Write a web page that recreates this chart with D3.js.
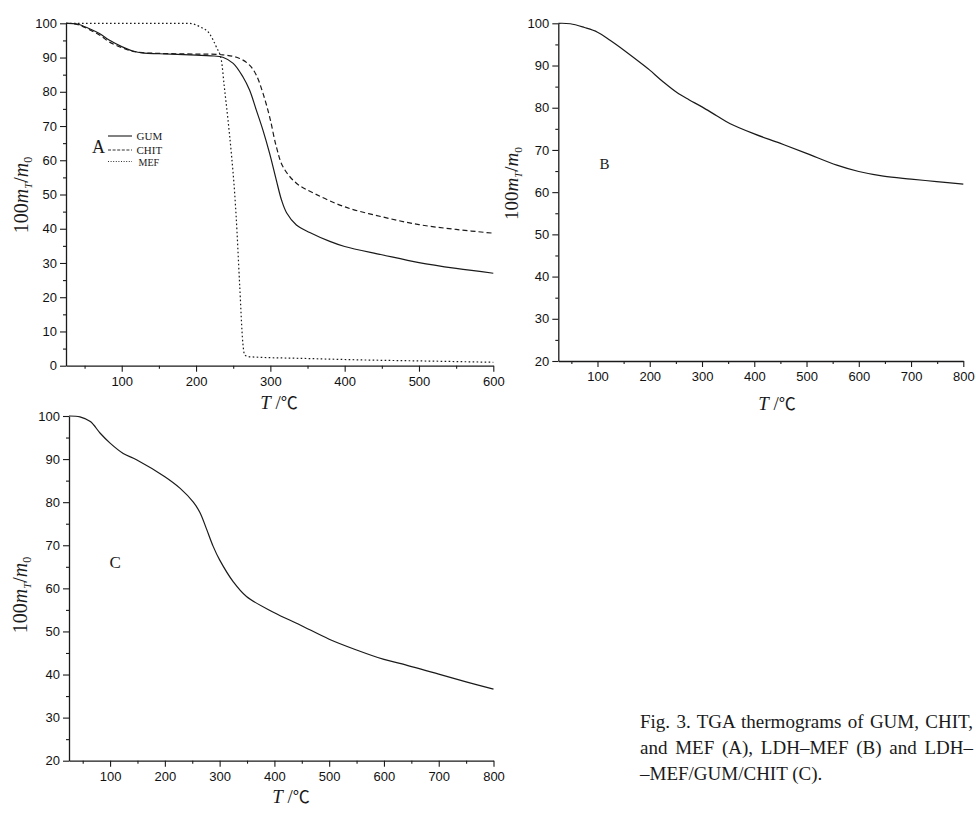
<!DOCTYPE html>
<html>
<head>
<meta charset="utf-8">
<script src="https://cdn.jsdelivr.net/npm/d3@7/dist/d3.min.js"></script>
<style>
  html, body { margin: 0; padding: 0; background: #fff; }
  svg { display: block; }
</style>
</head>
<body>
<script>
// ---------- DATA ----------
// Panel A : GUM, CHIT, MEF  (temperature in °C, residual mass 100 m_T/m_0)
const gumT  = [25, 40, 56, 70, 83, 100, 115, 130, 150, 200, 220, 236, 250, 263, 272, 281, 290, 299, 308, 315, 322, 335, 353, 380, 400, 450, 500, 550, 600];
const gumW  = [100, 99.8, 98.5, 97, 95.1, 93.2, 91.9, 91.3, 91.1, 90.7, 90.5, 90.1, 88.3, 84.4, 80.5, 74.7, 68.8, 62, 54.2, 48.4, 44.6, 41.1, 38.9, 36.3, 34.8, 32.4, 30.1, 28.4, 27];
const chitT = [25, 40, 56, 70, 83, 100, 115, 130, 150, 200, 236, 258, 272, 281, 290, 299, 308, 317, 335, 360, 400, 450, 500, 550, 600];
const chitW = [100, 99.7, 98.2, 96.6, 94.6, 92.9, 91.8, 91.4, 91.2, 91, 90.8, 89.8, 87.8, 84.9, 79.6, 72.7, 64, 58.1, 53.3, 50.2, 46.4, 43.5, 41.2, 39.8, 38.7];
const mefT  = [25, 150, 190, 205, 218, 227, 234, 238, 243, 247.5, 252, 254, 258.6, 263, 265.5, 272, 350, 420, 500, 600];
const mefW  = [100, 100, 100, 99, 97, 93.2, 89.3, 81.5, 71.8, 62, 50.3, 43.5, 24, 6.5, 3.1, 2.6, 2.1, 1.7, 1.4, 1.0];
// Panel B : LDH–MEF
const bT = [25, 48, 75, 100, 124, 150, 189, 200, 226, 252, 275, 300, 328, 354, 400, 449, 500, 558, 600, 647, 700, 749, 800];
const bW = [100, 99.9, 99, 97.9, 96, 93.7, 90, 88.9, 86.1, 83.6, 81.9, 80.2, 78.1, 76.2, 73.8, 71.6, 69.2, 66.4, 64.9, 63.8, 63.1, 62.5, 61.9];
// Panel C : LDH–MEF/GUM/CHIT
const cT = [25, 45, 64, 82, 100, 124, 149, 200, 228, 252, 264, 276, 288, 300, 325, 349, 399, 447, 500, 550, 600, 629, 700, 750, 800];
const cW = [100, 99.8, 98.7, 96, 93.7, 91.3, 89.8, 85.9, 83.2, 80, 77.6, 73.8, 69.8, 66.6, 61.5, 58.1, 54.4, 51.5, 48.2, 45.7, 43.5, 42.6, 40.1, 38.3, 36.6];

// tick values
const xMajorA = [100, 200, 300, 400, 500, 600];
const xMinorA = [50, 150, 250, 350, 450, 550];
const yMajorA = [0, 10, 20, 30, 40, 50, 60, 70, 80, 90, 100];
const yMinorA = [5, 15, 25, 35, 45, 55, 65, 75, 85, 95];
const xMajorBC = [100, 200, 300, 400, 500, 600, 700, 800];
const xMinorBC = [50, 150, 250, 350, 450, 550, 650, 750];
const yMajorBC = [20, 30, 40, 50, 60, 70, 80, 90, 100];
const yMinorBC = [25, 35, 45, 55, 65, 75, 85, 95];

const legendNames = ["GUM", "CHIT", "MEF"];
const panelLetters = ["A", "B", "C"];
const captionLines = [
  "Fig. 3. TGA thermograms of GUM, CHIT,",
  "and MEF (A), LDH\u2013MEF (B) and LDH\u2013",
  "\u2013MEF/GUM/CHIT (C)."
];

// ---------- DRAWING ----------
const W = 976, H = 817;
const svg = d3.select("body").append("svg").attr("width", W).attr("height", H);
svg.append("rect").attr("width", W).attr("height", H).attr("fill", "#fff");

const SANS = "'Liberation Sans', Arial, Helvetica, sans-serif";
const SERIF = "'Liberation Serif', 'Times New Roman', Times, serif";
const INK = "#1a1a1a";

function zip(ts, ws) { return ts.map((t, i) => [t, ws[i]]); }

function makePanel(o) {
  const x = d3.scaleLinear().domain(o.xDomain).range(o.xRange);
  const y = d3.scaleLinear().domain(o.yDomain).range(o.yRange);
  const g = svg.append("g");

  // minor ticks
  g.append("g").attr("transform", `translate(0,${o.yRange[0]})`)
    .call(d3.axisBottom(x).tickValues(o.xMinor).tickSize(3).tickFormat(""))
    .call(s => s.select(".domain").remove());
  g.append("g").attr("transform", `translate(${o.xRange[0]},0)`)
    .call(d3.axisLeft(y).tickValues(o.yMinor).tickSize(3).tickFormat(""))
    .call(s => s.select(".domain").remove());
  // major
  g.append("g").attr("transform", `translate(0,${o.yRange[0]})`)
    .call(d3.axisBottom(x).tickValues(o.xMajor).tickSize(6).tickSizeOuter(0).tickPadding(5).tickFormat(d3.format("d")));
  g.append("g").attr("transform", `translate(${o.xRange[0]},0)`)
    .call(d3.axisLeft(y).tickValues(o.yMajor).tickSize(6).tickSizeOuter(0).tickPadding(3).tickFormat(d3.format("d")));

  g.selectAll(".domain").attr("stroke", INK).attr("stroke-width", 1.3);
  g.selectAll(".tick line").attr("stroke", INK).attr("stroke-width", 1.1);
  g.selectAll(".tick text").attr("font-family", SANS).attr("font-size", 13).attr("fill", "#111");

  // series
  o.series.forEach(s => {
    const line = d3.line().x(d => x(d[0])).y(d => y(d[1]))
      .curve(s.sharp ? d3.curveMonotoneX : d3.curveCatmullRom.alpha(0.5));
    g.append("path").datum(zip(s.t, s.w))
      .attr("d", line)
      .attr("fill", "none")
      .attr("stroke", INK)
      .attr("stroke-width", s.width || 1.2)
      .attr("stroke-dasharray", s.dash || null);
  });

  // y label 100 m_T / m_0
  const yl = g.append("text")
    .attr("transform", `translate(${o.yLabel[0]},${o.yLabel[1]}) rotate(-90)`)
    .attr("text-anchor", "middle")
    .attr("font-family", SERIF)
    .attr("font-size", o.yLabelSize)
    .attr("fill", INK);
  yl.append("tspan").text("100");
  yl.append("tspan").attr("font-style", "italic").text("m");
  yl.append("tspan").attr("font-style", "italic").attr("font-size", o.yLabelSize * 0.55).attr("dy", o.yLabelSize * 0.2).text("T");
  yl.append("tspan").attr("dy", -o.yLabelSize * 0.2).text("/");
  yl.append("tspan").attr("font-style", "italic").text("m");
  yl.append("tspan").attr("font-size", o.yLabelSize * 0.6).attr("dy", o.yLabelSize * 0.2).text("0");

  // x label T / ℃
  const xl = g.append("text")
    .attr("x", o.xLabel[0]).attr("y", o.xLabel[1])
    .attr("text-anchor", "middle")
    .attr("font-family", SERIF)
    .attr("font-size", 19)
    .attr("fill", INK);
  xl.append("tspan").attr("font-style", "italic").text("T");
  xl.append("tspan").text(" /");
  xl.append("tspan").attr("font-family", "'Noto Sans CJK SC', " + SERIF).attr("font-size", 17).text("\u2103");

  // panel letter
  g.append("text").attr("x", o.letter[0]).attr("y", o.letter[1])
    .attr("font-family", SERIF).attr("font-size", o.letterSize).attr("fill", INK)
    .text(o.letterText);
  return { g, x, y };
}

// Panel A
const pA = makePanel({
  xDomain: [25, 600], xRange: [66, 493.3],
  yDomain: [0, 100], yRange: [365.7, 23.3],
  xMajor: xMajorA, xMinor: xMinorA, yMajor: yMajorA, yMinor: yMinorA,
  series: [
    { t: gumT, w: gumW },
    { t: chitT, w: chitW, dash: "5,3" },
    { t: mefT, w: mefW, dash: "1.6,2.4", sharp: true }
  ],
  yLabel: [28, 195], yLabelSize: 20,
  xLabel: [279, 409],
  letter: [92, 153], letterSize: 18, letterText: panelLetters[0]
});

// legend of panel A
const legY = [136, 150, 161.5];
const legDash = [null, "3,1.6", "1,1.6"];
const legFont = [11, 11, 10];
legendNames.forEach((name, i) => {
  pA.g.append("line").attr("x1", 108).attr("x2", 132).attr("y1", legY[i]).attr("y2", legY[i])
    .attr("stroke", INK).attr("stroke-width", i === 0 ? 1.1 : 0.9)
    .attr("stroke-dasharray", legDash[i]);
  pA.g.append("text").attr("x", i === 2 ? 138.5 : 136.5).attr("y", legY[i] + 4)
    .attr("font-family", SERIF).attr("font-size", legFont[i]).attr("fill", INK).text(name);
});

// Panel B
makePanel({
  xDomain: [25, 800], xRange: [558.3, 963.3],
  yDomain: [20, 100], yRange: [361, 23.3],
  xMajor: xMajorBC, xMinor: xMinorBC, yMajor: yMajorBC, yMinor: yMinorBC,
  series: [{ t: bT, w: bW }],
  yLabel: [518, 183.5], yLabelSize: 19,
  xLabel: [777, 410],
  letter: [599.5, 168.5], letterSize: 15, letterText: panelLetters[1]
});

// Panel C
makePanel({
  xDomain: [25, 800], xRange: [69, 493.5],
  yDomain: [20, 100], yRange: [760.7, 416],
  xMajor: xMajorBC, xMinor: xMinorBC, yMajor: yMajorBC, yMinor: yMinorBC,
  series: [{ t: cT, w: cW }],
  yLabel: [27, 595], yLabelSize: 20,
  xLabel: [291, 803],
  letter: [109.5, 567.5], letterSize: 17, letterText: panelLetters[2]
});

// caption
const capX0 = 640, capX1 = 973;
const capBase = [728, 754, 780];
captionLines.forEach((txt, i) => {
  const t = svg.append("text").attr("x", capX0).attr("y", capBase[i])
    .attr("font-family", SERIF).attr("font-size", 19).attr("fill", INK)
    .text(txt);
  if (i < 2) {
    const len = t.node().getComputedTextLength();
    const gaps = txt.split(" ").length - 1;
    const extra = (capX1 - capX0 - len) / gaps;
    t.attr("word-spacing", extra);
  }
});
</script>
</body>
</html>
